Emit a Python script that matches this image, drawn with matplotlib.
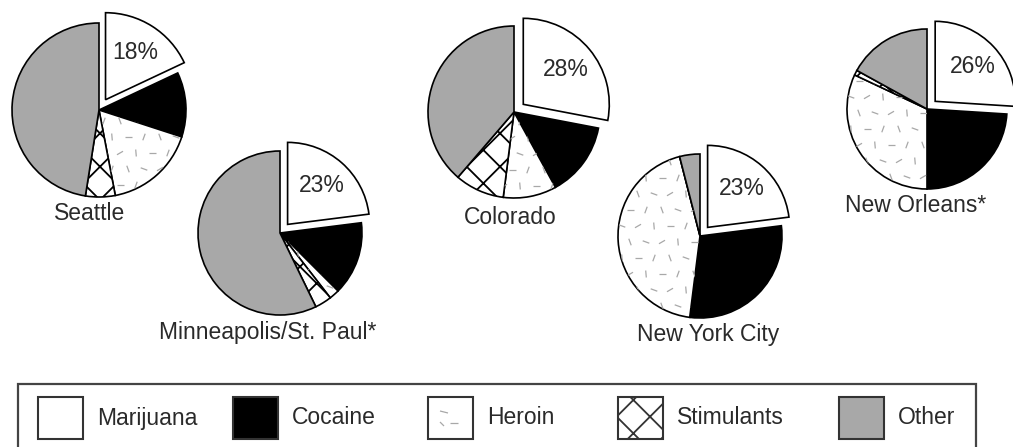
import numpy as np
import matplotlib
matplotlib.use("Agg")
import matplotlib.pyplot as plt
from matplotlib.patches import Rectangle
from matplotlib.collections import LineCollection

plt.rcParams['font.family'] = ['Liberation Sans', 'DejaVu Sans']
plt.rcParams['hatch.linewidth'] = 1.3

W, H = 1013, 447

# drug shares (%) per city, clockwise from 12 o'clock
categories = ['Marijuana', 'Cocaine', 'Heroin', 'Stimulants', 'Other']
cities = ['Seattle', 'Minneapolis/St. Paul*', 'Colorado', 'New York City', 'New Orleans*']
seattle = [18, 12, 17, 5.5, 47.5]
minneapolis = [23, 14.5, 2, 3.3, 57.2]
colorado = [28, 14, 10, 9.3, 38.7]
new_york = [23, 29, 44, 0, 4]
new_orleans = [26, 24, 32, 1, 17]
shares = [seattle, minneapolis, colorado, new_york, new_orleans]

# layout in image pixels (x, y from top), radius, city label position
centers = [(99, 110), (280, 233), (514, 112), (700, 236), (927, 109)]
radii = [87, 82, 86, 82, 80]
label_pos = [(90, 213), (268, 333), (510, 218), (708, 335), (916, 206)]

colors = ['white', 'black', 'white', 'white', '#a8a8a8']
hatches = ['', '', '', 'x', '']
text_kw = dict(fontsize=16.5, color='#2a2a2a')


def dash_texture(ax, wedge, cx, cy, r):
    # scattered short strokes used for the heroin fill
    step = 16
    xs = np.arange(cx - r - 20, cx + r + 20, step)
    ys = np.arange(cy - r - 20, cy + r + 20, step)
    angles = np.deg2rad([0, 70, 110, 160, 30, 95])
    segs = []
    for j, y in enumerate(ys):
        for i, x in enumerate(xs):
            a = angles[(i + 2 * j) % len(angles)]
            x0 = x + (step / 2 if j % 2 else 0)
            dx, dy = 3.5 * np.cos(a), 3.5 * np.sin(a)
            segs.append([(x0 - dx, y - dy), (x0 + dx, y + dy)])
    lc = LineCollection(segs, colors='#a8a8a8', linewidths=0.9, zorder=3)
    ax.add_collection(lc)
    lc.set_clip_path(wedge)


fig = plt.figure(figsize=(W / 100, H / 100), dpi=100)
ax = fig.add_axes([0, 0, 1, 1])

for vals, (cx, cy), r, city, (lx, ly) in zip(shares, centers, radii, cities, label_pos):
    wedges, _ = ax.pie(vals, center=(cx, H - cy), radius=r, startangle=90,
                       counterclock=False, explode=[0.14 * r, 0, 0, 0, 0],
                       colors=colors, hatch=hatches, frame=True,
                       wedgeprops=dict(edgecolor='black', linewidth=1.2))
    dash_texture(ax, wedges[2], cx, H - cy, r)
    w = wedges[0]
    mid = np.deg2rad((w.theta1 + w.theta2) / 2)
    px = w.center[0] + 0.64 * r * np.cos(mid)
    py = w.center[1] + 0.64 * r * np.sin(mid)
    ax.text(px, py, f"{vals[0]:.0f}%", ha='center', va='center', **text_kw)
    ax.text(lx, H - ly, city, ha='center', va='center', **text_kw)

# legend box
ax.add_patch(Rectangle((18, H - 452), 958, 68, facecolor='none',
                       edgecolor='#444444', linewidth=1.6))
leg_x = [38, 233, 428, 618, 839]
for cat, col, hat, x in zip(categories, colors, hatches, leg_x):
    box = Rectangle((x, H - 439), 45, 42, facecolor=col, hatch=hat,
                    edgecolor='#333333', linewidth=1.5)
    ax.add_patch(box)
    if cat == 'Heroin':
        segs = [[(x + 12, H - 411), (x + 20, H - 413)], [(x + 22, H - 423), (x + 30, H - 423)],
                [(x + 12, H - 422), (x + 16, H - 426)]]
        ax.add_collection(LineCollection(segs, colors='#a8a8a8', linewidths=0.9))
    ax.text(x + 59, H - 418, cat, ha='left', va='center', **text_kw)

ax.set_xlim(0, W)
ax.set_ylim(0, H)
ax.set_aspect('auto')
ax.axis('off')

fig.savefig('out.png', dpi=100, facecolor='white')
